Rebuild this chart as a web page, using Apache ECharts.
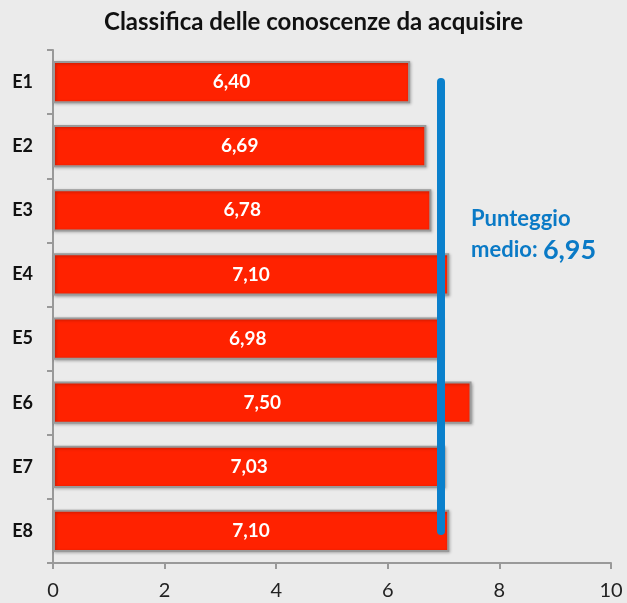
<!DOCTYPE html>
<html>
<head>
<meta charset="utf-8">
<script src="https://cdn.jsdelivr.net/npm/echarts@6/dist/echarts.min.js"></script>
<style>
  html, body { margin: 0; padding: 0; background: #ebebeb; }
  #chart { width: 627px; height: 603px; }
</style>
</head>
<body>
<div id="chart"></div>
<script>
// dati
const categories = ['E1', 'E2', 'E3', 'E4', 'E5', 'E6', 'E7', 'E8']
const scores = [6.40, 6.69, 6.78, 7.10, 6.98, 7.50, 7.03, 7.10]
const average = 6.95
const xTicks = [0, 2, 4, 6, 8, 10]

const fmt = v => v.toFixed(2).replace('.', ',')
const font = 'Lato, "Open Sans", sans-serif'

const chart = echarts.init(document.getElementById('chart'))
chart.setOption({
  backgroundColor: '#ebebeb',
  animation: false,
  title: {
    text: 'Classifica delle conoscenze da acquisire',
    left: 'center',
    top: 5,
    textStyle: { fontFamily: font, fontSize: 24, fontWeight: 'bold', color: '#111' }
  },
  grid: { left: 53, right: 16, top: 50, bottom: 40, containLabel: false },
  xAxis: {
    type: 'value',
    min: xTicks[0],
    max: xTicks[xTicks.length - 1],
    interval: 2,
    splitLine: { show: false },
    axisLine: { show: true, lineStyle: { color: '#999', width: 2 } },
    axisTick: { show: true, length: 6, lineStyle: { color: '#999', width: 2 } },
    axisLabel: { fontFamily: font, fontSize: 20, color: '#222', margin: 18 }
  },
  yAxis: {
    type: 'category',
    data: categories,
    inverse: true,
    axisLine: { show: true, lineStyle: { color: '#999', width: 2 } },
    axisTick: { show: true, length: 6, lineStyle: { color: '#999', width: 2 } },
    axisLabel: { fontFamily: font, fontSize: 18, fontWeight: 'bold', color: '#111', margin: 20 }
  },
  series: [{
    type: 'bar',
    data: scores,
    barWidth: '66%',
    itemStyle: {
      color: '#ff2200',
      borderColor: '#9a9a9a',
      borderWidth: 2,
      shadowColor: 'rgba(0,0,0,0.25)',
      shadowBlur: 3,
      shadowOffsetX: 1,
      shadowOffsetY: 1
    },
    label: {
      show: true,
      position: 'inside',
      formatter: p => fmt(p.value),
      fontFamily: font,
      fontSize: 19,
      fontWeight: 'bold',
      color: '#fff'
    },
    markLine: {
      silent: true,
      symbol: 'none',
      z: 10,
      label: { show: false },
      lineStyle: { color: '#0a80cc', width: 8, type: 'solid', cap: 'round' },
      data: [[
        { coord: [average, categories[0]] },
        { coord: [average, categories[categories.length - 1]] }
      ]]
    }
  }],
  graphic: [{
    type: 'text',
    left: 471,
    top: 208,
    style: {
      text: '{a|Punteggio}\n{a|medio: }{b|' + fmt(average) + '}',
      rich: {
        a: { fontFamily: font, fontSize: 22, fontWeight: 'bold', fill: '#0a7ac6', lineHeight: 31 },
        b: { fontFamily: font, fontSize: 27, fontWeight: 'bold', fill: '#0a7ac6', lineHeight: 31 }
      }
    }
  }]
})
</script>
</body>
</html>
